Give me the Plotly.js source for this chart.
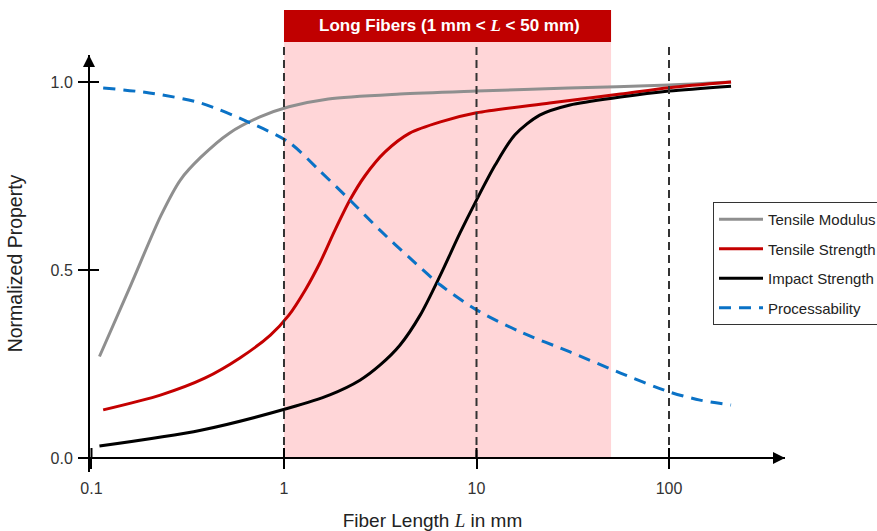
<!DOCTYPE html>
<html>
<head>
<meta charset="utf-8">
<script src="https://cdn.plot.ly/plotly-3.0.1.min.js"></script>
<style>html,body{margin:0;padding:0;background:#fff;}#chart{width:877px;height:531px;}</style>
</head>
<body>
<div id="chart"></div>
<script>
// ---- data ----
const tickVals = [0.1, 1, 10, 100];
const tickText = ["0.1", "1", "10", "100"];
const yTickVals = [0, 0.5, 1.0];
const seriesNames = ["Tensile Modulus", "Tensile Strength", "Impact Strength", "Processability"];

const lenModulus = [0.11, 0.16, 0.23, 0.29, 0.37, 0.52, 0.75, 1.06, 1.7, 4, 10, 30, 100, 210];
const modulus    = [0.27, 0.46, 0.646, 0.74, 0.80, 0.864, 0.907, 0.934, 0.955, 0.968, 0.976, 0.984, 0.992, 1.0];

const lenStrength = [0.115, 0.23, 0.39, 0.59, 0.85, 1.06, 1.29, 1.54, 1.84, 2.2, 2.63, 3.35, 4.5, 6.5, 10, 24, 56, 100, 210];
const strength    = [0.128, 0.168, 0.213, 0.266, 0.327, 0.38, 0.447, 0.52, 0.606, 0.686, 0.75, 0.814, 0.864, 0.894, 0.918, 0.944, 0.968, 0.985, 1.0];

const lenImpact = [0.11, 0.37, 1.06, 1.73, 2.48, 3.15, 4.0, 5.1, 6.5, 8.2, 10, 12.5, 15.8, 21.3, 30.6, 56, 100, 210];
const impact    = [0.032, 0.074, 0.133, 0.168, 0.207, 0.247, 0.30, 0.38, 0.487, 0.598, 0.686, 0.779, 0.859, 0.912, 0.939, 0.96, 0.976, 0.989];

const lenProc = [0.115, 0.2, 0.37, 0.67, 1.06, 1.54, 2.2, 3.15, 4.5, 6.5, 10, 16.8, 30.6, 56, 100, 145, 210];
const proc    = [0.984, 0.971, 0.944, 0.891, 0.84, 0.763, 0.686, 0.606, 0.532, 0.46, 0.394, 0.336, 0.282, 0.226, 0.176, 0.154, 0.141];

const longFiberRange = [1, 50];
const guideLines = [1, 10, 100];

// ---- layout helpers ----
const FONT = "Liberation Sans, Arial, Helvetica, sans-serif";
const W = 877, H = 531;
const M = {l: 80, r: 92, t: 55, b: 59, autoexpand: false};
const plotW = W - M.l - M.r, plotH = H - M.t - M.b;
const yMin = -0.0372, yMax = 1.0718;
const xRange = [-1.0597, 2.6026];
const axisY = (0 - yMin) / (yMax - yMin);           // paper y of y=0
const axisX = (89 - M.l) / plotW;                    // paper x of y-axis
const topY = (H - M.b - 42) / plotH;                 // paper y under header
const hdrTop = (H - M.b - 10) / plotH;
const hdrMid = (H - M.b - 26) / plotH;

const colors = ["#8f8f8f", "#c40000", "#000000", "#0a72c6"];

function mk(x, y, i, dash) {
  return {
    x: x, y: y, type: "scatter", mode: "lines", name: seriesNames[i],
    legendgroup: "g" + i,
    line: {color: colors[i], width: 3, shape: "spline", smoothing: 0.8, dash: dash || "solid"},
    hoverinfo: "skip"
  };
}
const traces = [
  mk(lenModulus, modulus, 0),
  mk(lenStrength, strength, 1),
  mk(lenImpact, impact, 2),
  mk(lenProc, proc, 3, "12px,8px")
];

const shapes = [];
shapes.push({type: "rect", xref: "x", yref: "paper", x0: longFiberRange[0], x1: longFiberRange[1],
  y0: axisY, y1: topY, fillcolor: "#ffd6d8", line: {width: 0}, layer: "below"});
shapes.push({type: "rect", xref: "x", yref: "paper", x0: longFiberRange[0], x1: longFiberRange[1],
  y0: topY, y1: hdrTop, fillcolor: "#c00000", line: {width: 0}, layer: "above"});
guideLines.forEach(v => shapes.push({type: "line", xref: "x", yref: "paper", x0: v, x1: v,
  y0: axisY, y1: topY, line: {color: "#333333", width: 2, dash: "8px,5px"}, layer: "above"}));
// upper halves of crossing tick marks
tickVals.forEach(v => shapes.push({type: "line", xref: "x", yref: "paper", x0: v, x1: v,
  y0: axisY, y1: axisY + 10 / plotH, line: {color: "#000", width: 2}}));
yTickVals.forEach(v => shapes.push({type: "line", xref: "paper", yref: "y", x0: axisX, x1: axisX + 10 / plotW,
  y0: v, y1: v, line: {color: "#000", width: 2}}));

const annotations = [
  {xref: "x", yref: "paper", x: Math.log10(Math.sqrt(longFiberRange[0] * longFiberRange[1])) + 0.01, y: hdrMid,
   text: "<b>Long Fibers (1 mm &lt; <span style=\"font-family:Liberation Serif\"><i>L</i></span> &lt; 50 mm)</b>",
   showarrow: false, font: {family: FONT, size: 17, color: "#ffffff"}, xanchor: "center", yanchor: "middle"},
  // axis arrowheads
  {xref: "paper", yref: "paper", x: 1.0, y: axisY, ax: -16, ay: 0, text: "", showarrow: true,
   arrowhead: 2, arrowsize: 1.2, arrowwidth: 2, arrowcolor: "#000"},
  {xref: "paper", yref: "paper", x: axisX, y: 1.0, ax: 0, ay: 16, text: "", showarrow: true,
   arrowhead: 2, arrowsize: 1.2, arrowwidth: 2, arrowcolor: "#000"}
];

const layout = {
  width: W, height: H, margin: M,
  paper_bgcolor: "#fff", plot_bgcolor: "rgba(0,0,0,0)",
  font: {family: FONT, color: "#222"},
  showlegend: true,
  legend: {x: (713 - M.l) / plotW, y: (H - M.b - 202) / plotH, xanchor: "left", yanchor: "top",
    bordercolor: "#333", borderwidth: 1, bgcolor: "#fff", tracegroupgap: 7, itemwidth: 44,
    font: {family: FONT, size: 15, color: "#222"}},
  xaxis: {type: "log", range: xRange, anchor: "free", position: axisY,
    showline: true, linecolor: "#000", linewidth: 2, showgrid: false, zeroline: false,
    ticks: "outside", ticklen: 10, tickwidth: 2, tickcolor: "#000", ticklabelstandoff: 6,
    tickvals: tickVals, ticktext: tickText, tickfont: {family: FONT, size: 16, color: "#333"},
    title: {text: "Fiber Length <span style=\"font-family:Liberation Serif\"><i>L</i></span> in mm",
      font: {family: FONT, size: 19, color: "#222"}, standoff: 18}},
  yaxis: {range: [yMin, yMax], anchor: "free", position: axisX,
    showline: true, linecolor: "#000", linewidth: 2, showgrid: false, zeroline: false,
    ticks: "outside", ticklen: 10, tickwidth: 2, tickcolor: "#000", ticklabelstandoff: 2,
    tickvals: yTickVals, tickformat: ".1f", tickfont: {family: FONT, size: 16, color: "#333"},
    title: {text: "Normalized Property", font: {family: FONT, size: 19.5, color: "#222"}, standoff: 22}},
  shapes: shapes,
  annotations: annotations
};

Plotly.newPlot("chart", traces, layout, {staticPlot: true, displayModeBar: false});
</script>
</body>
</html>
